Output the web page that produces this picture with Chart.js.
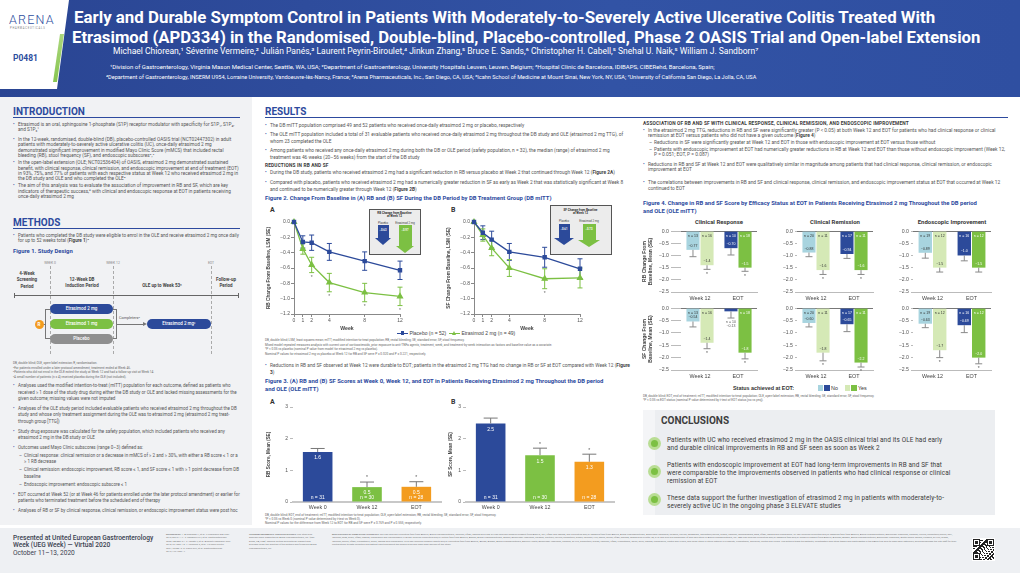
<!DOCTYPE html>
<html>
<head>
<meta charset="utf-8">
<title>Etrasimod OASIS poster</title>
<script src="https://cdn.jsdelivr.net/npm/chart.js"></script>
<style>
  body { margin:0; width:1020px; height:573px; position:relative; overflow:hidden; background:#fff;
         font-family: Roboto, "Liberation Sans", sans-serif; color:#555; }
  .a { position:absolute; }
  .nw { white-space:nowrap; }
  .c { transform:translateX(-50%); text-align:center; white-space:nowrap; }
  .h1 { font-weight:700; color:#2d4a9e; font-size:10px; line-height:10px; }
  .rule { height:1px; background:#2d4a9e; }
  .sub { font-weight:700; color:#3a3a3a; font-size:4.8px; line-height:6px; letter-spacing:0.15px; white-space:nowrap; }
  .fig { font-weight:700; color:#2d4a9e; font-size:5.9px; line-height:7.6px; white-space:nowrap; }
  .txt { font-size:4.5px; }
  ul.b { margin:0; padding:0; list-style:none; }
  ul.b > li { position:relative; padding-left:5px; margin-bottom:2px; }
  ul.b > li::before { content:"•"; position:absolute; left:0; color:#2d4a9e; }
  ul.d { margin:0; padding:0; list-style:none; }
  ul.d > li { position:relative; padding-left:6px; margin-top:1.5px; }
  ul.d > li::before { content:"–"; position:absolute; left:1px; }
  .note { font-size:3.1px; line-height:4.5px; color:#666; }
  .txt b { font-weight:700; color:#444; }
  .dg { font-size:3.4px; color:#888; }
  .per { font-size:4.5px; font-weight:700; color:#444; line-height:6.3px; }
  .dash { width:0; border-left:0.8px dashed #aaa; }
  .pill { position:absolute; height:10px; line-height:10px; border-radius:5px; color:#fff; font-size:4.5px; text-align:center; font-weight:500; }
  .panel { font-weight:700; font-size:7px; color:#333; }
  .inset { box-sizing:border-box; border:1.6px solid #555; background:#ececec; }
  .inset div { position:absolute; }
  .tiny { font-size:2.4px; line-height:3.4px; color:#777; }
  .cl { font-size:6.4px; line-height:8.3px; color:#3a3a3a; letter-spacing:0.12px; }
</style>
</head>
<body>

<!-- header -->
<div class="a" style="left:0;top:0;width:1020px;height:97px;background:linear-gradient(90deg,#2a4593,#3253a5 60%,#2f4fa1);clip-path:polygon(69px 0,1020px 0,1020px 97px,0 97px,0 89px,57px 89px)"></div>
<div class="a" style="left:0;top:0;width:120px;height:97px;background:linear-gradient(180deg,#c4e29b,#7cc043);clip-path:polygon(60px 34px,64px 34px,57px 82px,53px 82px)"></div>
<div class="a nw" style="left:9px;top:13px;font-size:12.5px;line-height:13px;font-weight:300;letter-spacing:1.2px;color:#2d4e9e">ARENA</div>
<div class="a nw" style="left:10px;top:27px;font-size:2.6px;letter-spacing:0.75px;color:#7a7a7a">PHARMACEUTICALS</div>
<div class="a nw" style="left:13px;top:53px;font-size:8.5px;font-weight:700;color:#2d4e9e">P0481</div>
<div class="a nw fitme" data-w="861" style="left:74px;top:8px;font-size:17px;line-height:18px;font-weight:700;color:#fff">Early and Durable Symptom Control in Patients With Moderately-to-Severely Active Ulcerative Colitis Treated With</div>
<div class="a nw fitme" data-w="908" style="left:72px;top:28px;font-size:17px;line-height:18px;font-weight:700;color:#fff">Etrasimod (APD334) in the Randomised, Double-blind, Placebo-controlled, Phase 2 OASIS Trial and Open-label Extension</div>
<div class="a nw fitme" data-w="645" style="left:113px;top:46px;font-size:8.6px;line-height:10px;color:#fff">Michael Chiorean,¹ Séverine Vermeire,² Julián Panés,³ Laurent Peyrin-Biroulet,⁴ Jinkun Zhang,⁵ Bruce E. Sands,⁶ Christopher H. Cabell,⁵ Snehal U. Naik,⁵ William J. Sandborn⁷</div>
<div class="a nw fitme" data-w="605" style="left:110px;top:63.5px;font-size:5.6px;line-height:6px;color:#fff">¹Division of Gastroenterology, Virginia Mason Medical Center, Seattle, WA, USA; ²Department of Gastroenterology, University Hospitals Leuven, Leuven, Belgium; ³Hospital Clinic de Barcelona, IDIBAPS, CIBERehd, Barcelona, Spain;</div>
<div class="a nw fitme" data-w="650" style="left:106px;top:74px;font-size:5.6px;line-height:6px;color:#fff">⁴Department of Gastroenterology, INSERM U954, Lorraine University, Vandoeuvre-lès-Nancy, France; ⁵Arena Pharmaceuticals, Inc., San Diego, CA, USA; ⁶Icahn School of Medicine at Mount Sinai, New York, NY, USA; ⁷University of California San Diego, La Jolla, CA, USA</div>

<!-- panels -->
<div class="a" style="left:0;top:97px;width:252px;height:428px;background:#f1f2f4"></div>
<div class="a" style="left:0;top:528px;width:1020px;height:45px;background:#eef0f3"></div>

<!-- INTRODUCTION -->
<div class="a h1 nw" style="left:13px;top:107px">INTRODUCTION</div>
<div class="a rule" style="left:13px;top:117px;width:227px"></div>
<div class="a txt" style="left:13px;top:122px;width:227px;line-height:5.3px;font-size:4.75px">
<ul class="b">
<li style="margin-bottom:4.5px">Etrasimod is an oral, sphingosine 1-phosphate (S1P) receptor modulator with specificity for S1P₁, S1P₄, and S1P₅¹</li>
<li>In the 12-week, randomised, double-blind (DB), placebo-controlled OASIS trial (NCT02447302) in adult patients with moderately-to-severely active ulcerative colitis (UC), once-daily etrasimod 2 mg demonstrated significant improvement in modified Mayo Clinic Score (mMCS) that included rectal bleeding (RB), stool frequency (SF), and endoscopic subscores²,³</li>
<li>In the open-label extension (OLE; NCT02536404) of OASIS, etrasimod 2 mg demonstrated sustained benefit, with clinical response, clinical remission, and endoscopic improvement at end of treatment (EOT) in 93%, 75%, and 77% of patients with each respective status at Week 12 who received etrasimod 2 mg in the DB study and OLE and who completed the OLE⁴</li>
<li>The aim of this analysis was to evaluate the association of improvement in RB and SF, which are key indicators of therapeutic success,⁵ with clinical and endoscopic response at EOT in patients receiving once-daily etrasimod 2 mg</li>
</ul></div>

<!-- METHODS -->
<div class="a h1 nw" style="left:13px;top:218px">METHODS</div>
<div class="a rule" style="left:13px;top:228px;width:227px"></div>
<div class="a txt" style="left:13px;top:233px;width:227px;line-height:5.4px;font-size:4.6px">
<ul class="b"><li>Patients who completed the DB study were eligible to enrol in the OLE and receive etrasimod 2 mg once daily for up to 52 weeks total (<b>Figure 1</b>)⁴</li></ul></div>
<div class="a fig" style="left:13px;top:248px">Figure 1. Study Design</div>

<!-- Figure 1 diagram -->
<div class="a c dg" style="left:50px;top:261px">WEEK 0</div>
<div class="a c dg" style="left:113px;top:261px">WEEK 12</div>
<div class="a c dg" style="left:211px;top:261px">EOT</div>
<div class="a dash" style="left:50px;top:266px;height:88px"></div>
<div class="a dash" style="left:113px;top:266px;height:88px"></div>
<div class="a dash" style="left:211px;top:266px;height:88px"></div>
<div class="a c per" style="left:27px;top:271px">4-Week<br>Screening<br>Period</div>
<div class="a c per" style="left:82px;top:277px">12-Week DB<br>Induction Period</div>
<div class="a c per" style="left:162px;top:283px">OLE up to Week 53ᵃ</div>
<div class="a c per" style="left:226px;top:277px">Follow-up<br>Period</div>
<div class="a" style="left:14px;top:295px;width:225px;height:0.9px;background:#666"></div>
<div class="a" style="left:14px;top:293px;width:0.9px;height:5px;background:#666"></div>
<div class="a" style="left:238px;top:293px;width:0.9px;height:5px;background:#666"></div>
<div class="a" style="left:45px;top:309px;width:5px;height:30px;box-sizing:border-box;border:0.9px solid #777;border-right:none"></div>
<div class="a" style="left:113px;top:309px;width:4px;height:30px;box-sizing:border-box;border:0.9px solid #777;border-left:none"></div>
<div class="a" style="left:117px;top:323.6px;width:27px;height:0.9px;background:#777"></div>
<div class="a" style="left:143px;top:322px;width:0;height:0;border-top:2px solid transparent;border-bottom:2px solid transparent;border-left:4px solid #777"></div>
<div class="a" style="left:40px;top:323.6px;width:5px;height:0.9px;background:#777"></div>
<div class="a" style="left:34.5px;top:319.5px;width:9px;height:9px;border-radius:50%;background:#f39c1f;color:#fff;font-size:4.6px;line-height:9px;text-align:center;font-weight:700">R</div>
<div class="pill" style="left:50px;top:304px;width:63px;background:#2c4a9a">Etrasimod 2 mg</div>
<div class="pill" style="left:50px;top:319px;width:63px;background:#7cc043">Etrasimod 1 mg</div>
<div class="pill" style="left:50px;top:334px;width:63px;background:#8f8f8f">Placebo</div>
<div class="pill" style="left:147px;top:319px;width:64px;background:#2c4a9a">Etrasimod 2 mgᶜ</div>
<div class="a nw" style="left:119px;top:315px;font-size:3.8px;color:#555">Completersᵇ</div>

<div class="a note" style="left:13px;top:361px;width:227px">DB, double blind; OLE, open-label extension; R, randomisation.<br>ᵃFor patients enrolled under a later protocol amendment, treatment ended at Week 46.<br>ᵇPatients who did not enrol in the OLE exited the study at Week 12 and had a follow-up visit at Week 14.<br>ᶜA small number of patients (n = 4) received placebo during the OLE (not included).</div>

<div class="a txt" style="left:13px;top:383px;width:227px;line-height:6.5px">
<ul class="b">
<li style="margin-bottom:3.3px">Analyses used the modified intention-to-treat (mITT) population for each outcome, defined as patients who received ≥ 1 dose of the study drug during either the DB study or OLE and lacked missing assessments for the given outcome; missing values were not imputed</li>
<li style="margin-bottom:3.3px">Analyses of the OLE study period included evaluable patients who received etrasimod 2 mg throughout the DB study and whose only treatment assignment during the OLE was to etrasimod 2 mg (etrasimod 2 mg treat-through group [TTG])</li>
<li style="margin-bottom:3.3px">Study drug exposure was calculated for the safety population, which included patients who received any etrasimod 2 mg in the DB study or OLE</li>
<li style="margin-bottom:3.3px">Outcomes used Mayo Clinic subscores (range 0–3) defined as:
<ul class="d">
<li>Clinical response: clinical remission or a decrease in mMCS of ≥ 2 and ≥ 30%, with either a RB score ≤ 1 or a ≥ 1 RB decrease</li>
<li>Clinical remission: endoscopic improvement, RB score ≤ 1, and SF score ≤ 1 with ≥ 1 point decrease from DB baseline</li>
<li>Endoscopic improvement: endoscopic subscore ≤ 1</li>
</ul></li>
<li style="margin-bottom:3.3px">EOT occurred at Week 52 (or at Week 46 for patients enrolled under the later protocol amendment) or earlier for patients who terminated treatment before the scheduled end of therapy</li>
<li>Analyses of RB or SF by clinical response, clinical remission, or endoscopic improvement status were post hoc</li>
</ul></div>

<!-- RESULTS -->
<div class="a h1 nw" style="left:265px;top:107px">RESULTS</div>
<div class="a rule" style="left:265px;top:117px;width:743px"></div>
<div class="a txt" style="left:265px;top:121.5px;width:365px;line-height:7px;font-size:4.8px">
<ul class="b">
<li>The DB mITT population comprised 49 and 52 patients who received once-daily etrasimod 2 mg or placebo, respectively</li>
<li>The OLE mITT population included a total of 31 evaluable patients who received once-daily etrasimod 2 mg throughout the DB study and OLE (etrasimod 2 mg TTG), of whom 23 completed the OLE</li>
<li>Among patients who received any once-daily etrasimod 2 mg during both the DB or OLE period (safety population, n = 32), the median (range) of etrasimod 2 mg treatment was 46 weeks (20–56 weeks) from the start of the DB study</li>
</ul></div>
<div class="a sub" style="left:265px;top:162.7px">REDUCTIONS IN RB AND SF</div>
<div class="a txt" style="left:265px;top:168.5px;width:365px;line-height:7px;font-size:4.8px">
<ul class="b">
<li style="margin-bottom:3px">During the DB study, patients who received etrasimod 2 mg had a significant reduction in RB versus placebo at Week 2 that continued through Week 12 (<b>Figure 2A</b>)</li>
<li>Compared with placebo, patients who received etrasimod 2 mg had a numerically greater reduction in SF as early as Week 2 that was statistically significant at Week 8 and continued to be numerically greater through Week 12 (<b>Figure 2B</b>)</li>
</ul></div>
<div class="a fig" style="left:265px;top:195px">Figure 2. Change From Baseline in (A) RB and (B) SF During the DB Period by DB Treatment Group (DB mITT)</div>
<div class="a panel" style="left:270px;top:206px">A</div>
<div class="a panel" style="left:451px;top:206px">B</div>

<!-- Fig 2 insets -->
<div class="a inset" style="left:369px;top:209px;width:52px;height:46px">
  <div class="c" style="left:24.5px;top:1.5px;font-size:3px;line-height:3.4px;font-weight:700;color:#333">RB Change from Baseline<br>at Week 12</div>
  <div class="c" style="left:13px;top:10.5px;font-size:2.8px;color:#444">Placebo</div>
  <div class="c" style="left:35px;top:10.5px;font-size:2.8px;color:#444">Etrasimod 2 mg</div>
  <div style="left:7.5px;top:15px;width:11px;height:13px;background:#2c4a9a"></div>
  <div style="left:4.5px;top:28px;width:0;height:0;border-left:8.5px solid transparent;border-right:8.5px solid transparent;border-top:7px solid #2c4a9a"></div>
  <div id="lbA0" class="c" style="left:13px;top:18px;font-size:2.7px;color:#fff;font-weight:700"></div>
  <div style="left:28.5px;top:15px;width:13px;height:21px;background:#7cc043"></div>
  <div style="left:25.5px;top:36px;width:0;height:0;border-left:9.5px solid transparent;border-right:9.5px solid transparent;border-top:7px solid #7cc043"></div>
  <div id="lbA1" class="c" style="left:35px;top:18px;font-size:2.7px;color:#fff;font-weight:700"></div>
</div>
<div class="a inset" style="left:550px;top:205px;width:62px;height:50px">
  <div class="c" style="left:29.5px;top:3px;font-size:3px;line-height:3.4px;font-weight:700;color:#333">SF Change from Baseline<br>at Week 12</div>
  <div class="c" style="left:13px;top:13px;font-size:2.8px;color:#444">Placebo</div>
  <div class="c" style="left:38px;top:13px;font-size:2.8px;color:#444">Etrasimod 2 mg</div>
  <div style="left:7.5px;top:18px;width:11px;height:14px;background:#2c4a9a"></div>
  <div style="left:3px;top:32px;width:0;height:0;border-left:10px solid transparent;border-right:10px solid transparent;border-top:7px solid #2c4a9a"></div>
  <div id="lbB0" class="c" style="left:13px;top:21px;font-size:2.7px;color:#fff;font-weight:700"></div>
  <div style="left:31.5px;top:18px;width:13px;height:16px;background:#7cc043"></div>
  <div style="left:27px;top:34px;width:0;height:0;border-left:11px solid transparent;border-right:11px solid transparent;border-top:7px solid #7cc043"></div>
  <div id="lbB1" class="c" style="left:38px;top:21px;font-size:2.7px;color:#fff;font-weight:700"></div>
</div>

<!-- Fig 2 legend -->
<div class="a nw" style="left:397px;top:330.5px;font-family:'Liberation Sans',sans-serif;font-size:5px;line-height:5px;color:#444">
  <span style="display:inline-block;position:relative;width:11px;height:5px;vertical-align:top"><i style="position:absolute;left:0;right:0;top:2px;height:1.2px;background:#2c4a9a"></i><i style="position:absolute;left:3.6px;top:0.8px;width:3.6px;height:3.6px;background:#2c4a9a"></i></span>
  Placebo (n = 52)&nbsp;
  <span style="display:inline-block;position:relative;width:11px;height:5px;vertical-align:top"><i style="position:absolute;left:0;right:0;top:2.4px;height:1.2px;background:#7cc043"></i><i style="position:absolute;left:2.9px;top:0;width:0;height:0;border-left:2.6px solid transparent;border-right:2.6px solid transparent;border-bottom:4.5px solid #7cc043"></i></span>
  Etrasimod 2 mg (n = 49)
</div>
<div class="a note" style="left:265px;top:338px;width:370px;line-height:4.6px">DB, double blind; LSM, least squares mean; mITT, modified intention-to-treat population; RB, rectal bleeding; SE, standard error; SF, stool frequency.<br>Mixed model repeated measures analysis with current use of corticosteroids, prior exposure to anti-TNFα agents, treatment, week, and treatment-by-week interaction as factors and baseline value as a covariate.<br>*P &lt; 0.05 vs placebo (nominal P value from model for etrasimod 2 mg vs placebo).<br>Nominal P values for etrasimod 2 mg vs placebo at Week 12 for RB and SF were P = 0.020 and P = 0.221, respectively.</div>

<div class="a txt" style="left:265px;top:362px;width:365px;line-height:7px;font-size:4.8px">
<ul class="b"><li>Reductions in RB and SF observed at Week 12 were durable to EOT; patients in the etrasimod 2 mg TTG had no change in RB or SF at EOT compared with Week 12 (<b>Figure 3</b>)</li></ul></div>
<div class="a fig" style="left:265px;top:378px">Figure 3. (A) RB and (B) SF Scores at Week 0, Week 12, and EOT in Patients Receiving Etrasimod 2 mg Throughout the DB period<br>and OLE (OLE mITT)</div>
<div class="a panel" style="left:270px;top:398px">A</div>
<div class="a panel" style="left:451px;top:398px">B</div>
<div class="a note" style="left:265px;top:512.5px;width:370px;line-height:4.4px">DB, double blind; EOT, end of treatment; mITT, modified intention-to-treat population; OLE, open-label extension; RB, rectal bleeding; SE, standard error; SF, stool frequency.<br>*P &lt; 0.05 vs Week 0 (nominal P value determined by t-test vs Week 0).<br>Nominal P values for the difference from Week 12 to EOT for RB and SF were P = 0.769 and P = 0.555, respectively.</div>

<!-- right column -->
<div class="a sub" style="left:643px;top:121px">ASSOCIATION OF RB AND SF WITH CLINICAL RESPONSE, CLINICAL REMISSION, AND ENDOSCOPIC IMPROVEMENT</div>
<div class="a txt" style="left:643px;top:128px;width:365px;line-height:5.2px;font-size:4.85px">
<ul class="b">
<li style="margin-bottom:5px">In the etrasimod 2 mg TTG, reductions in RB and SF were significantly greater (P &lt; 0.05) at both Week 12 and EOT for patients who had clinical response or clinical remission at EOT versus patients who did not have a given outcome (<b>Figure 4</b>)
<ul class="d">
<li>Reductions in SF were significantly greater at Week 12 and EOT in those with endoscopic improvement at EOT versus those without</li>
<li>Patients with endoscopic improvement at EOT had numerically greater reductions in RB at Week 12 and EOT than those without endoscopic improvement (Week 12, P = 0.051; EOT, P = 0.087)</li>
</ul></li>
<li style="margin-bottom:8px">Reductions in RB and SF at Week 12 and EOT were qualitatively similar in magnitude among patients that had clinical response, clinical remission, or endoscopic improvement at EOT</li>
<li>The correlations between improvements in RB and SF and clinical response, clinical remission, and endoscopic improvement status at EOT that occurred at Week 12 continued to EOT</li>
</ul></div>
<div class="a fig" style="left:643px;top:200px">Figure 4. Change in RB and SF Score by Efficacy Status at EOT in Patients Receiving Etrasimod 2 mg Throughout the DB period<br>and OLE (OLE mITT)</div>
<div class="a c" style="left:719px;top:218px;font-size:6px;font-weight:700;color:#3a3a3a">Clinical Response</div>
<div class="a c" style="left:835px;top:218px;font-size:6px;font-weight:700;color:#3a3a3a">Clinical Remission</div>
<div class="a c" style="left:952px;top:218px;font-size:6px;font-weight:700;color:#3a3a3a">Endoscopic Improvement</div>

<div class="a nw" style="left:733px;top:385px;font-family:'Liberation Sans',sans-serif;font-size:5.4px;line-height:6px;color:#333">
  <b style="font-weight:700">Status achieved at EOT:</b>
  <span style="display:inline-block;width:5.5px;height:5.5px;background:#a8d4df;margin-left:22px;vertical-align:top"></span><span style="display:inline-block;width:5.5px;height:5.5px;background:#2c4a9a;margin-left:1px;vertical-align:top"></span> No
  <span style="display:inline-block;width:5.5px;height:5.5px;background:#d5e9b6;margin-left:5px;vertical-align:top"></span><span style="display:inline-block;width:5.5px;height:5.5px;background:#7cc043;margin-left:1px;vertical-align:top"></span> Yes
</div>
<div class="a note" style="left:643px;top:394px;width:365px;line-height:4.4px">DB, double blind; EOT, end of treatment; mITT, modified intention-to-treat population; OLE, open-label extension; RB, rectal bleeding; SE, standard error; SF, stool frequency.<br>*P &lt; 0.05 vs EOT status (nominal P value determined by t-test of EOT status [no vs yes]).</div>

<!-- CONCLUSIONS -->
<div class="a" style="left:643px;top:410px;width:352px;height:105px;background:#f4f5f7"></div>
<div class="a" style="left:655px;top:410px;width:340px;height:105px;background:#eceef1"></div>
<div class="a nw" style="left:661px;top:415px;font-size:10px;line-height:11px;font-weight:700;color:#3d3d3d">CONCLUSIONS</div>
<div class="a" style="left:647.5px;top:436.5px;width:13px;height:13px;border-radius:50%;background:#b9dd94"></div>
<div class="a" style="left:650.5px;top:439.5px;width:7px;height:7px;border-radius:50%;background:#7cc043"></div>
<div class="a" style="left:647.5px;top:464.5px;width:13px;height:13px;border-radius:50%;background:#b9dd94"></div>
<div class="a" style="left:650.5px;top:467.5px;width:7px;height:7px;border-radius:50%;background:#7cc043"></div>
<div class="a" style="left:647.5px;top:492.5px;width:13px;height:13px;border-radius:50%;background:#b9dd94"></div>
<div class="a" style="left:650.5px;top:495.5px;width:7px;height:7px;border-radius:50%;background:#7cc043"></div>
<div class="a nw cl" style="left:667px;top:435.5px">Patients with UC who received etrasimod 2 mg in the OASIS clinical trial and its OLE had early<br>and durable clinical improvements in RB and SF seen as soon as Week 2</div>
<div class="a nw cl" style="left:667px;top:460.5px">Patients with endoscopic improvement at EOT had long-term improvements in RB and SF that<br>were comparable to the improvements observed in patients who had clinical response or clinical<br>remission at EOT</div>
<div class="a nw cl" style="left:667px;top:494px">These data support the further investigation of etrasimod 2 mg in patients with moderately-to-<br>severely active UC in the ongoing phase 3 ELEVATE studies</div>

<!-- footer -->
<div class="a nw" style="left:13px;top:535px;font-size:6.6px;line-height:7.3px;color:#3a4150;font-weight:500">Presented at United European Gastroenterology<br>Week (UEG Week) — Virtual 2020<br><span style="font-weight:400">October 11–13, 2020</span></div>
<div class="a tiny" style="left:166px;top:533px;width:70px"><b>REFERENCES:</b> 1. Al-Shamma H, et al. J Pharmacol Exp Ther. 2019;369:311–7. 2. Sandborn WJ, et al. Gastroenterology. 2020;158:550–61. 3. Jairath V, et al. Aliment Pharmacol Ther. 2015;42:1200–10. 4. Vermeire S, et al. J Crohns Colitis. 2021;15:950–9. 5. Travis SPL, et al. Gastroenterology. 2012;142:1282–4.</div>
<div class="a tiny" style="left:249px;top:533px;width:70px"><b>ACKNOWLEDGEMENTS AND DISCLOSURES:</b> The study and analyses were supported by Arena Pharmaceuticals, Inc. (San Diego, CA, USA). Medical writing and editorial support was provided under the direction of the authors and funded by Arena Pharmaceuticals, Inc.</div>
<div class="a tiny" style="left:332px;top:533px;width:625px"><b>DECLARATION OF COMPETING INTERESTS:</b> MC has received consulting fees from AbbVie, Arena Pharmaceuticals, Janssen, Pfizer, Takeda and UCB; SV has received research support from AbbVie, J&amp;J, Pfizer and Takeda, and consulting and/or speaking fees from AbbVie, Arena Pharmaceuticals, Boehringer Ingelheim, Celgene, Ferring, Galapagos, Genentech/Roche, Gilead, Janssen, Mundipharma, MSD, Pfizer, Takeda and Theravance; JP has received consulting and/or speaking fees from AbbVie, Arena Pharmaceuticals, Boehringer Ingelheim, Celgene, Ferring, Genentech/Roche, GSK, Janssen, MSD, Origo, Pfizer, Takeda, Theravance and Wassermann; LPB has received consulting and/or lecture fees from AbbVie, Amgen, Arena Pharmaceuticals, Biogen, Boehringer Ingelheim, Celgene, Celltrion, Ferring, Genentech, Gilead, Janssen, Lilly, Merck, Mylan, Pfizer, Sandoz, Takeda and Tillotts; JZ, CHC and SUN are employees of and own stock in Arena Pharmaceuticals, Inc.; BES has received consulting and/or speaking fees and/or research support from AbbVie, Allergan, Amgen, Arena Pharmaceuticals, Boehringer Ingelheim, Bristol Myers Squibb, Celgene, Eli Lilly, Gilead, Janssen, Merck, Pfizer, Prometheus, Seres, Takeda and Theravance; WJS has received research grants and/or consulting fees from AbbVie, Abivax, Amgen, Arena Pharmaceuticals, Bausch Health, Boehringer Ingelheim, Celgene, Eli Lilly, Genentech, Gilead, Janssen, Pfizer, Prometheus, Seres, Shire, Takeda, Theravance, Ventyx and Vivelix, and holds stock or stock options in Progenity, Prometheus, Shoreline, Ventyx and Vivelix. The authors thank the patients, investigators and study teams who participated in the OASIS trial and its open-label extension, and acknowledge the site staff for their contributions to data collection and patient care throughout the double-blind and open-label periods of the study.</div>
<canvas id="qr" class="a" width="23" height="23" style="left:972px;top:538px;width:23px;height:23px"></canvas>

<script>
// ---- data ----
const weeks = [0, 1, 2, 4, 8, 12];
const rbPlacebo     = [0, -0.26, -0.27, -0.39, -0.51, -0.63];
const rbPlaceboSE   = [0, 0.08, 0.10, 0.11, 0.12, 0.12];
const rbEtrasimod   = [0, -0.35, -0.56, -0.79, -0.92, -0.97];
const rbEtrasimodSE = [0, 0.07, 0.10, 0.12, 0.12, 0.12];
const rbSig         = [0, 0, 1, 1, 1, 1];
const sfPlacebo     = [0, -0.14, -0.23, -0.39, -0.46, -0.61];
const sfPlaceboSE   = [0, 0.09, 0.11, 0.11, 0.13, 0.13];
const sfEtrasimod   = [0, -0.17, -0.34, -0.60, -0.74, -0.73];
const sfEtrasimodSE = [0, 0.08, 0.10, 0.11, 0.13, 0.13];
const sfSig         = [0, 0, 0, 0, 1, 0];

const timepoints = ['Week 0', 'Week 12', 'EOT'];
const rbScore    = [1.58, 0.47, 0.48];
const rbScoreSE  = [0.11, 0.16, 0.16];
const sfScore    = [2.48, 1.48, 1.27];
const sfScoreSE  = [0.17, 0.22, 0.24];
const scoreN     = [31, 30, 28];
const scoreSig   = [0, 1, 1];

const visits = ['Week 12', 'EOT'];
// clinical response
const nNoCR = [13, 10], nYesCR = [16, 18];
const rbNoCR = [-0.77, -0.70], rbNoCRse = [0.28, 0.28], rbYesCR = [-1.4, -1.5], rbYesCRse = [0.17, 0.15], rbSigCR = [1, 1];
const sfNoCR = [-0.54, -0.13], sfNoCRse = [0.22, 0.27], sfYesCR = [-1.4, -1.8], sfYesCRse = [0.24, 0.25], sfSigCR = [1, 1];
// clinical remission
const nNoCRm = [20, 17], nYesCRm = [11, 11];
const rbNoCRm = [-0.88, -0.94], rbNoCRmse = [0.17, 0.18], rbYesCRm = [-1.6, -1.6], rbYesCRmse = [0.18, 0.18], rbSigCRm = [1, 1];
const sfNoCRm = [-0.60, -0.65], sfNoCRmse = [0.16, 0.30], sfYesCRm = [-1.8, -2.2], sfYesCRmse = [0.33, 0.18], sfSigCRm = [1, 1];
// endoscopic improvement
const nNoEI = [19, 16], nYesEI = [12, 12];
const rbNoEI = [-0.89, -1.0], rbNoEIse = [0.22, 0.22], rbYesEI = [-1.5, -1.5], rbYesEIse = [0.18, 0.18], rbSigEI = [0, 0];
const sfNoEI = [-0.63, -0.69], sfNoEIse = [0.16, 0.30], sfYesEI = [-1.7, -2.0], sfYesEIse = [0.30, 0.25], sfSigEI = [1, 1];

const BLUE = '#2c4a9a', GREEN = '#7cc043', ORANGE = '#f39c1f', LBLUE = '#a8d4df', LGREEN = '#d5e9b6';
const FONT = '"Liberation Sans", Arial, sans-serif';
Chart.defaults.font.family = FONT;
Chart.defaults.color = '#555';

const minus = v => '\u2212' + Math.abs(v);
const tick1 = v => v === 0 ? '0.0' : '\u2212' + Math.abs(v).toFixed(1);
const fmtVal = v => '\u2212' + (Math.abs(v) >= 1 ? Math.abs(v).toFixed(1) : Math.abs(v).toFixed(2));

// place a chart so its plot area lands on given page coords
function makeChart(box, area, cfg) {
  const c = document.createElement('canvas');
  c.width = box[2]; c.height = box[3];
  c.style.cssText = `position:absolute;left:${box[0]}px;top:${box[1]}px;width:${box[2]}px;height:${box[3]}px`;
  document.body.appendChild(c);
  const o = cfg.options;
  o.responsive = false; o.animation = false; o.devicePixelRatio = 1;
  o.layout = { padding: { left: 0, top: area[1] - box[1], right: box[0] + box[2] - area[2], bottom: 0 } };
  o.scales.x.afterFit = s => { s.height = box[1] + box[3] - area[3]; };
  o.scales.y.afterFit = s => { s.width = area[0] - box[0]; };
  o.plugins = Object.assign({ legend: { display: false }, tooltip: { enabled: false } }, o.plugins || {});
  return new Chart(c, cfg);
}

// error bars for the line charts
const lineErr = {
  id: 'lineErr',
  beforeDatasetsDraw(chart) {
    const ctx = chart.ctx, ys = chart.scales.y;
    chart.data.datasets.forEach((ds, d) => {
      chart.getDatasetMeta(d).data.forEach((pt, i) => {
        const v = ds.data[i].y, e = ds.se[i];
        if (!e) return;
        const y1 = ys.getPixelForValue(v + e), y2 = ys.getPixelForValue(v - e);
        ctx.save();
        ctx.strokeStyle = ds.borderColor; ctx.lineWidth = 1;
        ctx.beginPath();
        ctx.moveTo(pt.x, y1); ctx.lineTo(pt.x, y2);
        ctx.moveTo(pt.x - 2.5, y1); ctx.lineTo(pt.x + 2.5, y1);
        ctx.moveTo(pt.x - 2.5, y2); ctx.lineTo(pt.x + 2.5, y2);
        ctx.stroke();
        if (ds.sig[i]) {
          ctx.fillStyle = '#666'; ctx.font = '5px ' + FONT; ctx.textAlign = 'center';
          ctx.fillText('*', pt.x, y2 + 6);
        }
        ctx.restore();
      });
    });
  }
};

function fig2(box, area, pl, plSE, et, etSE, sig, yTitle) {
  const pts = arr => weeks.map((w, i) => ({ x: w, y: arr[i] }));
  return makeChart(box, area, {
    type: 'line',
    data: { datasets: [
      { data: pts(pl), se: plSE, sig: weeks.map(() => 0), borderColor: BLUE, backgroundColor: BLUE,
        pointStyle: 'rect', pointRadius: 2.2, borderWidth: 1.3, clip: false },
      { data: pts(et), se: etSE, sig: sig, borderColor: GREEN, backgroundColor: GREEN,
        pointStyle: 'triangle', pointRadius: 2.8, borderWidth: 1.3, clip: false }
    ] },
    options: {
      scales: {
        x: { type: 'linear', min: 0, max: 12,
             afterBuildTicks: s => { s.ticks = weeks.map(v => ({ value: v })); },
             grid: { drawOnChartArea: false, tickLength: 3, color: '#888' }, border: { color: '#888' },
             ticks: { font: { size: 5 }, padding: 1, color: '#555' },
             title: { display: true, text: 'Week', font: { size: 5.2, weight: 'bold' }, color: '#444', padding: 0 } },
        y: { min: -1.2, max: 0,
             ticks: { stepSize: 0.2, font: { size: 5 }, padding: 1, color: '#555', callback: tick1 },
             grid: { drawOnChartArea: false, tickLength: 3, color: '#888' }, border: { color: '#888' },
             title: { display: true, text: yTitle, font: { size: 4.7, weight: 'bold' }, color: '#444', padding: 0 } }
      }
    },
    plugins: [lineErr]
  });
}

// error bars + labels for the bar charts
let pid = 0;
function barErr(style, labeler) {
  return {
    id: 'barErr' + (++pid),
    afterDatasetsDraw(chart) {
      const ctx = chart.ctx, ys = chart.scales.y;
      chart.data.datasets.forEach((ds, d) => {
        chart.getDatasetMeta(d).data.forEach((bar, i) => {
          const v = ds.data[i];
          const end = ys.getPixelForValue(v + Math.sign(v) * ds.se[i]);
          ctx.save();
          ctx.strokeStyle = style.color; ctx.lineWidth = style.width;
          ctx.beginPath();
          ctx.moveTo(bar.x, bar.y); ctx.lineTo(bar.x, end);
          ctx.moveTo(bar.x - style.cap, end); ctx.lineTo(bar.x + style.cap, end);
          ctx.stroke();
          ctx.restore();
          ctx.save();
          ctx.textAlign = 'center'; ctx.textBaseline = 'middle';
          labeler(ctx, bar, ds, i, end);
          ctx.restore();
        });
      });
    }
  };
}

function fig3Labels(ctx, bar, ds, i, end) {
  ctx.font = '5px ' + FONT; ctx.fillStyle = '#fff';
  ctx.fillText(ds.data[i].toFixed(1), bar.x, bar.y + 6);
  ctx.fillText('n = ' + scoreN[i], bar.x, bar.base - 4);
  if (ds.sig[i]) { ctx.fillStyle = '#555'; ctx.fillText('*', bar.x, end - 4); }
}

function fig3(box, area, vals, se, yTitle) {
  return makeChart(box, area, {
    type: 'bar',
    data: { labels: timepoints, datasets: [
      { data: vals, se: se, sig: scoreSig, backgroundColor: [BLUE, GREEN, ORANGE], barPercentage: 0.6, categoryPercentage: 1 }
    ] },
    options: {
      scales: {
        x: { grid: { display: false, drawTicks: false }, border: { color: '#c8c8c8', width: 2 },
             ticks: { font: { size: 5.3 }, color: '#444', padding: 2 } },
        y: { min: 0, max: 3, ticks: { stepSize: 1, font: { size: 5 }, padding: 2, color: '#555' },
             grid: { drawOnChartArea: false, tickLength: 3, color: '#bbb' }, border: { display: false },
             title: { display: true, text: yTitle, font: { size: 4.6, weight: 'bold' }, color: '#444', padding: 0 } }
      }
    },
    plugins: [barErr({ color: '#777', width: 1, cap: 7 }, fig3Labels)]
  });
}

function fig4Labels(ctx, bar, ds, i, end) {
  const v = ds.data[i];
  ctx.font = '3.5px ' + FONT;
  if (Math.abs(v) < 0.3) {
    ctx.fillStyle = '#555';
    ctx.fillText('n = ' + ds.n[i], bar.x, end + 4);
    ctx.fillText(fmtVal(v), bar.x, end + 8);
  } else {
    ctx.fillStyle = ds.ink[i];
    ctx.fillText('n = ' + ds.n[i], bar.x, bar.base + 4);
    ctx.fillText(fmtVal(v), bar.x, bar.y - 4);
  }
  if (ds.sig[i]) { ctx.fillStyle = '#555'; ctx.font = '5px ' + FONT; ctx.fillText('*', bar.x, end + 5); }
}

function fig4(box, area, noV, noSE, yesV, yesSE, nNo, nYes, sig, tickLen, yTitle) {
  return makeChart(box, area, {
    type: 'bar',
    data: { labels: visits, datasets: [
      { data: noV, se: noSE, n: nNo, sig: [0, 0], backgroundColor: [LBLUE, BLUE], ink: ['#333', '#fff'] },
      { data: yesV, se: yesSE, n: nYes, sig: sig, backgroundColor: [LGREEN, GREEN], ink: ['#333', '#fff'] }
    ] },
    options: {
      datasets: { bar: { barPercentage: 0.93, categoryPercentage: 0.74 } },
      scales: {
        x: { grid: { display: false, drawTicks: false }, border: { color: '#bbb' },
             ticks: { font: { size: 5.4 }, color: '#444', padding: 3 } },
        y: { min: -2.5, max: 0,
             ticks: { stepSize: 0.5, font: { size: 5.2 }, color: '#555', padding: 2, callback: tick1 },
             grid: { color: c => (c.tick && c.tick.value === 0 ? '#777' : 'rgba(0,0,0,0)'), tickLength: tickLen, tickColor: '#bbb' },
             border: { display: false },
             title: yTitle ? { display: true, text: yTitle, font: { size: 5, weight: 'bold' }, color: '#444', padding: 0 } : { display: false } }
      }
    },
    plugins: [barErr({ color: '#8a8a8a', width: 1, cap: 3.5 }, fig4Labels)]
  });
}

// Figure 2
fig2([266, 206, 146, 126], [294, 222, 400, 314], rbPlacebo, rbPlaceboSE, rbEtrasimod, rbEtrasimodSE, rbSig, 'RB Change From Baseline, LSM (SE)');
fig2([446, 206, 146, 126], [474, 222, 580, 314], sfPlacebo, sfPlaceboSE, sfEtrasimod, sfEtrasimodSE, sfSig, 'SF Change From Baseline, LSM (SE)');
document.getElementById('lbA0').textContent = minus(rbPlacebo[5]);
document.getElementById('lbA1').textContent = minus(rbEtrasimod[5]);
document.getElementById('lbB0').textContent = minus(sfPlacebo[5]);
document.getElementById('lbB1').textContent = minus(sfEtrasimod[5]);

// Figure 3
fig3([266, 398, 180, 113], [293, 407, 441, 502], rbScore, rbScoreSE, 'RB Score, Mean (SE)');
fig3([448, 398, 172, 113], [466, 407, 614, 502], sfScore, sfScoreSE, 'SF Score, Mean (SE)');

// Figure 4
const rbTitle = ['RB Change From', 'Baseline, Mean (SE)'], sfTitle = ['SF Change From', 'Baseline, Mean (SE)'];
fig4([642, 226, 118, 80], [681, 231, 757, 292], rbNoCR, rbNoCRse, rbYesCR, rbYesCRse, nNoCR, nYesCR, rbSigCR, 10, rbTitle);
fig4([776, 226, 100, 80], [797, 231, 873, 292], rbNoCRm, rbNoCRmse, rbYesCRm, rbYesCRmse, nNoCRm, nYesCRm, rbSigCRm, 2, null);
fig4([892, 226, 102, 80], [913, 231, 991, 292], rbNoEI, rbNoEIse, rbYesEI, rbYesEIse, nNoEI, nYesEI, rbSigEI, 2, null);
fig4([642, 303, 118, 80], [681, 308, 757, 370], sfNoCR, sfNoCRse, sfYesCR, sfYesCRse, nNoCR, nYesCR, sfSigCR, 10, sfTitle);
fig4([776, 303, 100, 80], [797, 308, 873, 370], sfNoCRm, sfNoCRmse, sfYesCRm, sfYesCRmse, nNoCRm, nYesCRm, sfSigCRm, 2, null);
fig4([892, 303, 102, 80], [913, 308, 991, 370], sfNoEI, sfNoEIse, sfYesEI, sfYesEIse, nNoEI, nYesEI, sfSigEI, 2, null);

// header lines squeezed to their measured widths
document.querySelectorAll('.fitme').forEach(el => {
  el.style.transformOrigin = '0 0';
  el.style.transform = `scaleX(${(+el.dataset.w / el.offsetWidth).toFixed(4)})`;
});

// qr-like badge in the footer
(function () {
  const q = document.getElementById('qr').getContext('2d');
  const code = 'ARENA-P0481-UEGW2020-ETRASIMOD-OASIS-OLE';
  q.fillStyle = '#fff'; q.fillRect(0, 0, 23, 23);
  q.fillStyle = '#222';
  for (let r = 0; r < 21; r++) for (let c = 0; c < 21; c++) {
    const ch = code.charCodeAt((r * 21 + c) % code.length);
    if (((ch >> ((r + c) % 7)) & 1) === 1) q.fillRect(1 + c, 1 + r, 1, 1);
  }
  [[1, 1], [15, 1], [1, 15]].forEach(([x, y]) => {
    q.fillStyle = '#222'; q.fillRect(x, y, 7, 7);
    q.fillStyle = '#fff'; q.fillRect(x + 1, y + 1, 5, 5);
    q.fillStyle = '#222'; q.fillRect(x + 2, y + 2, 3, 3);
  });
})();
</script>
</body>
</html>
